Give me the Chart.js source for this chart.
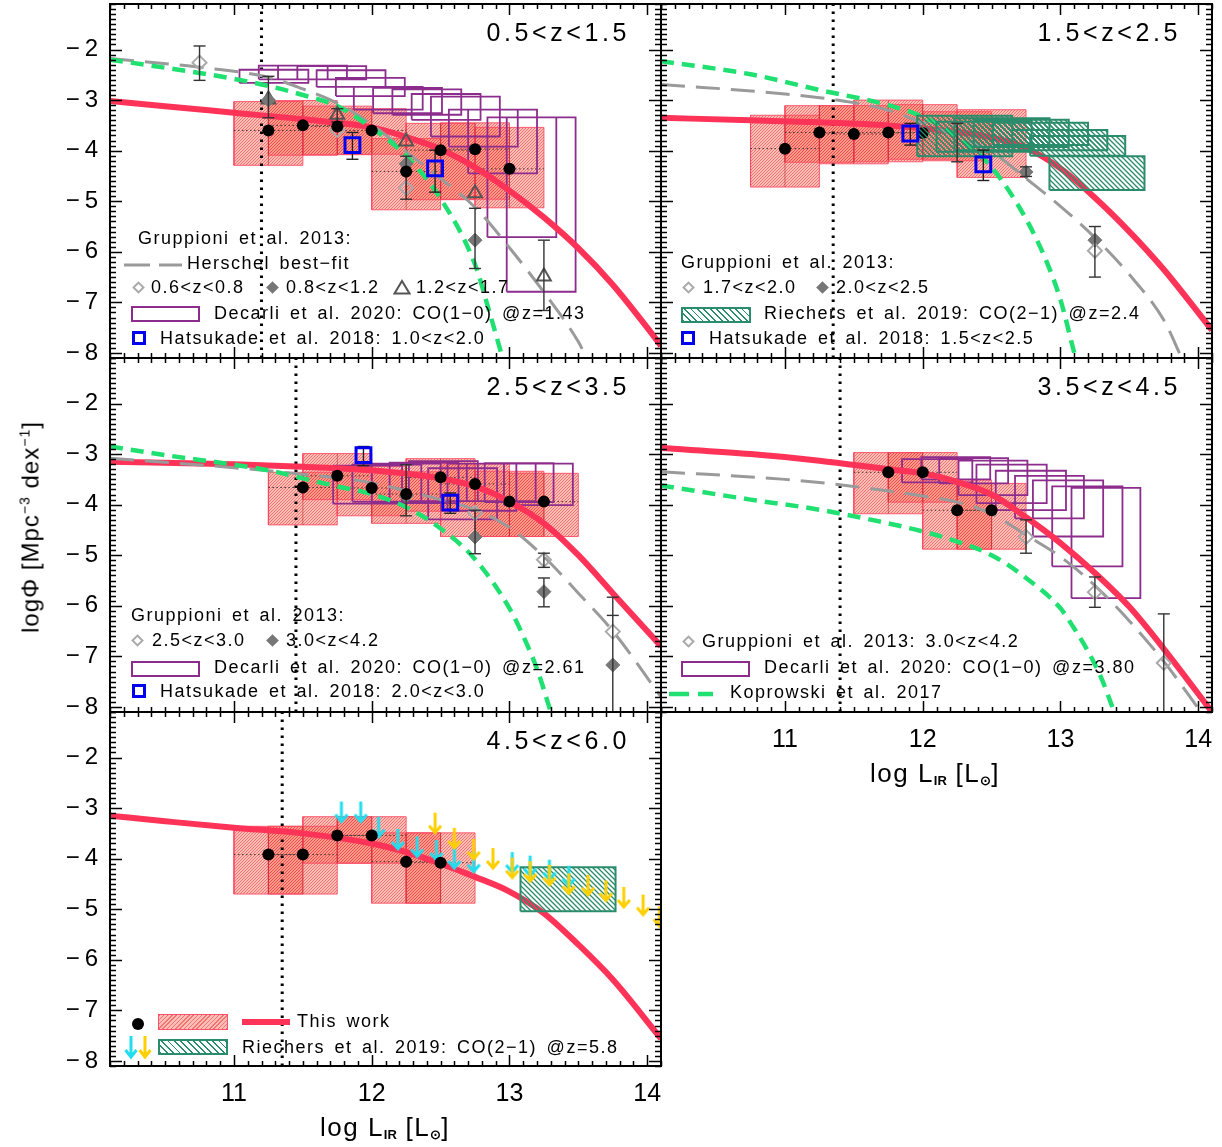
<!DOCTYPE html>
<html>
<head>
<meta charset="utf-8">
<title>IR luminosity functions</title>
<script src="https://cdn.jsdelivr.net/npm/chart.js@4.4.1/dist/chart.umd.min.js"></script>
<style>
  body { margin: 0; background: #fff; }
  #fig { position: relative; width: 1222px; height: 1147px; overflow: hidden;
         font-family: "Liberation Sans", Arial, Helvetica, sans-serif; color: #000; }
  #fig canvas { position: absolute; left: 0; top: 0; }
  .lab { position: absolute; white-space: nowrap; font-size: 18px; line-height: 1;
         letter-spacing: 1.5px; word-spacing: 3px; transform: translateY(-50%); }
  .zr { position: absolute; white-space: nowrap; font-size: 25px; line-height: 1;
        letter-spacing: 3.6px; transform: translate(-100%, -50%); }
  .axt { position: absolute; white-space: nowrap; font-size: 26px; line-height: 1;
         letter-spacing: 1.5px; transform: translate(-50%, -50%); }
  .axt sub { font-size: 13px; font-weight: bold; vertical-align: -3px; letter-spacing: 0; }
  .ytitle { position: absolute; white-space: nowrap; font-size: 24px; line-height: 1; letter-spacing: 1px;
            transform: translate(-50%, -50%) rotate(-90deg); }
  .ytitle sup { font-size: 14px; }
  .sym { position: absolute; box-sizing: border-box; }
</style>
</head>
<body>
<div id="fig"></div>
<script>
const FONT = '"Liberation Sans", Arial, Helvetica, sans-serif'
const X_MIN = 10.1, X_MAX = 14.1, Y_MIN = -8.1, Y_MAX = -1.1
const xTicks = [11, 12, 13, 14]
const yTicks = [-2, -3, -4, -5, -6, -7, -8]

// ---- 0.5<z<1.5 ----
const p1DotX = [11.25, 11.5, 11.75, 12.0, 12.25, 12.5, 12.75, 13.0]
const p1DotY = [-3.6, -3.5, -3.52, -3.6, -4.41, -3.99, -3.97, -4.36]
const p1BoxX0 = [11.0, 11.25, 11.5, 11.75, 12.0, 12.25, 12.5, 12.75]
const p1BoxX1 = [11.5, 11.75, 12.0, 12.25, 12.5, 12.75, 13.0, 13.25]
const p1BoxTop = [-3.03, -3.01, -3.12, -3.17, -3.76, -3.46, -3.45, -3.54]
const p1BoxBot = [-4.29, -4.09, -4.08, -4.07, -5.17, -4.97, -4.96, -5.13]
const p1CoX0 = [11.04, 11.18, 11.32, 11.46, 11.60, 11.74, 11.87, 12.01, 12.15, 12.29, 12.43, 12.56, 12.70, 12.84, 12.98]
const p1CoX1 = [11.54, 11.68, 11.82, 11.96, 12.10, 12.24, 12.37, 12.51, 12.65, 12.79, 12.93, 13.06, 13.20, 13.34, 13.48]
const p1CoTop = [-2.40, -2.32, -2.32, -2.33, -2.41, -2.56, -2.74, -2.76, -2.79, -2.88, -2.93, -3.19, -3.19, -3.34, -3.34]
const p1CoBot = [-2.66, -2.59, -2.59, -2.59, -2.74, -2.92, -3.19, -3.26, -3.29, -3.39, -3.72, -3.92, -4.45, -5.71, -6.79]
const p1HatX = [11.86, 12.46]
const p1HatY = [-3.89, -4.35]
const p1HatLo = [-4.17, -4.82]
const p1HatHi = [-3.64, -3.99]
const p1GOpenX = [10.75, 11.75, 12.25]
const p1GOpenY = [-2.26, -3.59, -4.74]
const p1GFillX = [11.25, 12.25, 12.75]
const p1GFillY = [-3.0, -4.26, -5.77]
const p1GTriX = [11.25, 11.75, 12.25, 12.75, 13.25]
const p1GTriY = [-2.99, -3.29, -3.82, -4.84, -6.49]
const p1ErrX = [10.75, 11.25, 11.75, 12.25, 12.75, 13.25]
const p1ErrLo = [-2.61, -3.35, -3.43, -4.96, -6.33, -7.16]
const p1ErrHi = [-1.93, -2.53, -3.17, -4.11, -5.14, -5.77]
const p1RedX = [10.1, 10.5, 11.0, 11.5, 12.0, 12.25, 12.5, 12.75, 13.0, 13.25, 13.5, 13.75, 14.0, 14.1]
const p1RedY = [-3.02, -3.12, -3.25, -3.38, -3.54, -3.73, -3.97, -4.33, -4.79, -5.32, -5.93, -6.65, -7.5, -7.86]
const p1KopX = [10.1, 10.5, 11.0, 11.25, 11.5, 11.75, 12.0, 12.25, 12.5, 12.75, 12.85, 12.95]
const p1KopY = [-2.2, -2.36, -2.58, -2.72, -2.9, -3.12, -3.55, -4.1, -4.95, -6.25, -7.15, -8.1]
const p1HerX = [10.1, 10.75, 11.25, 11.5, 11.75, 12.0, 12.25, 12.5, 12.75, 13.0, 13.25, 13.5, 13.56]
const p1HerY = [-2.18, -2.35, -2.55, -2.78, -3.06, -3.48, -4.02, -4.55, -5.12, -5.92, -6.8, -7.78, -8.1]
const p1LimX = 11.2

// ---- 1.5<z<2.5 ----
const p2DotX = [11.0, 11.25, 11.5, 11.75]
const p2DotY = [-3.96, -3.64, -3.67, -3.64]
const p2HidX = [12.0]
const p2HidY = [-3.65]
const p2BoxX0 = [10.75, 11.0, 11.25, 11.5, 11.75, 12.0, 12.25]
const p2BoxX1 = [11.25, 11.5, 11.75, 12.0, 12.25, 12.5, 12.75]
const p2BoxTop = [-3.3, -3.11, -3.11, -3.0, -3.09, -3.23, -3.19]
const p2BoxBot = [-4.72, -4.23, -4.26, -4.22, -4.17, -4.2, -4.53]
const p2RieX0 = [11.96, 12.10, 12.23, 12.37, 12.51, 12.65, 12.78, 12.92]
const p2RieX1 = [12.65, 12.79, 12.92, 13.06, 13.20, 13.34, 13.47, 13.61]
const p2RieTop = [-3.31, -3.43, -3.36, -3.39, -3.45, -3.59, -3.71, -4.11]
const p2RieBot = [-4.11, -4.02, -3.99, -3.93, -3.89, -3.99, -4.10, -4.78]
const p2HatX = [11.91, 12.44]
const p2HatY = [-3.66, -4.27]
const p2HatLo = [-3.89, -4.59]
const p2HatHi = [-3.46, -3.99]
const p2GOpenX = [13.25]
const p2GOpenY = [-5.98]
const p2GFillX = [12.75, 13.25]
const p2GFillY = [-4.42, -5.77]
const p2ErrX = [12.25, 12.75, 13.25]
const p2ErrLo = [-4.22, -4.51, -6.5]
const p2ErrHi = [-3.46, -4.32, -5.5]
const p2RedX = [10.1, 10.75, 11.25, 11.75, 12.0, 12.25, 12.5, 12.75, 13.0, 13.25, 13.5, 13.75, 14.1]
const p2RedY = [-3.35, -3.4, -3.44, -3.5, -3.56, -3.63, -3.74, -3.95, -4.35, -4.93, -5.6, -6.35, -7.55]
const p2KopX = [10.1, 10.75, 11.25, 11.75, 12.0, 12.25, 12.5, 12.75, 12.9, 13.0, 13.1]
const p2KopY = [-2.23, -2.49, -2.8, -3.1, -3.33, -3.72, -4.33, -5.35, -6.2, -6.95, -8.0]
const p2HerX = [10.1, 11.0, 11.5, 11.75, 12.0, 12.25, 12.5, 12.75, 13.0, 13.25, 13.5, 13.75, 13.88]
const p2HerY = [-2.69, -2.88, -3.05, -3.2, -3.45, -3.72, -4.02, -4.55, -5.1, -5.72, -6.45, -7.35, -8.1]
const p2LimX = 11.35

// ---- 2.5<z<3.5 ----
const p3DotX = [11.5, 11.75, 12.0, 12.25, 12.5, 12.75, 13.0, 13.25]
const p3DotY = [-3.66, -3.43, -3.67, -3.79, -3.46, -3.59, -3.94, -3.94]
const p3BoxX0 = [11.25, 11.5, 11.75, 12.0, 12.25, 12.5, 12.75, 13.0]
const p3BoxX1 = [11.75, 12.0, 12.25, 12.5, 12.75, 13.0, 13.25, 13.5]
const p3BoxTop = [-3.36, -2.99, -3.24, -3.35, -3.09, -3.19, -3.34, -3.38]
const p3BoxBot = [-4.4, -3.9, -4.22, -4.37, -4.13, -4.63, -4.63, -4.63]
const p3CoX0 = [11.72, 11.86, 12.0, 12.13, 12.27, 12.41, 12.55, 12.69, 12.82, 12.96]
const p3CoX1 = [12.22, 12.36, 12.5, 12.63, 12.77, 12.91, 13.05, 13.19, 13.32, 13.46]
const p3CoTop = [-3.23, -3.21, -3.19, -3.17, -3.14, -3.28, -3.19, -3.19, -3.18, -3.19]
const p3CoBot = [-3.98, -3.94, -3.96, -3.97, -3.93, -4.29, -4.12, -3.93, -3.95, -4.01]
const p3HatX = [11.94, 12.57]
const p3HatY = [-3.02, -3.96]
const p3HatLo = [-3.23, -4.17]
const p3HatHi = [-2.85, -3.77]
const p3GOpenX = [12.75, 13.25, 13.75]
const p3GOpenY = [-4.16, -5.09, -6.51]
const p3GFillX = [12.25, 12.75, 13.25, 13.75]
const p3GFillY = [-3.83, -4.64, -5.72, -7.17]
const p3ErrX = [12.25, 12.75, 13.25, 13.25, 13.75, 13.75]
const p3ErrLo = [-4.22, -4.97, -5.24, -6.02, -8.4, -8.4]
const p3ErrHi = [-3.21, -4.11, -4.96, -5.45, -5.83, -6.19]
const p3RedX = [10.1, 11.0, 11.5, 12.0, 12.5, 12.75, 13.0, 13.25, 13.5, 13.75, 14.1]
const p3RedY = [-3.15, -3.2, -3.25, -3.32, -3.48, -3.64, -3.94, -4.37, -5.0, -5.75, -6.8]
const p3KopX = [10.1, 10.5, 11.0, 11.25, 11.5, 11.75, 12.0, 12.25, 12.5, 12.75, 13.0, 13.1, 13.2, 13.3]
const p3KopY = [-2.85, -3.02, -3.21, -3.32, -3.48, -3.64, -3.79, -4.05, -4.47, -5.08, -6.05, -6.6, -7.25, -8.1]
const p3HerX = [10.1, 11.0, 11.5, 12.0, 12.25, 12.5, 12.75, 13.0, 13.25, 13.5, 13.75, 14.1]
const p3HerY = [-3.08, -3.27, -3.4, -3.57, -3.73, -3.9, -4.1, -4.45, -5.03, -5.75, -6.5, -7.8]
const p3LimX = 11.45

// ---- 3.5<z<4.5 ----
const p4DotX = [11.75, 12.0, 12.25, 12.5]
const p4DotY = [-3.36, -3.36, -4.11, -4.11]
const p4BoxX0 = [11.5, 11.75, 12.0, 12.25]
const p4BoxX1 = [12.0, 12.25, 12.5, 12.75]
const p4BoxTop = [-2.97, -2.97, -3.51, -3.58]
const p4BoxBot = [-4.18, -3.95, -4.88, -4.88]
const p4CoX0 = [11.85, 11.99, 12.12, 12.26, 12.39, 12.53, 12.67, 12.80, 12.94, 13.08]
const p4CoX1 = [12.36, 12.49, 12.62, 12.76, 12.90, 13.04, 13.17, 13.31, 13.45, 13.58]
const p4CoTop = [-3.1, -3.06, -3.08, -3.13, -3.21, -3.33, -3.43, -3.52, -3.64, -3.67]
const p4CoBot = [-3.56, -3.5, -3.58, -3.81, -3.97, -4.11, -4.27, -4.63, -5.22, -5.85]
const p4GOpenX = [12.75, 13.25, 13.75]
const p4GOpenY = [-4.64, -5.73, -7.13]
const p4ErrX = [12.75, 13.25, 13.75]
const p4ErrLo = [-4.96, -6.03, -8.4]
const p4ErrHi = [-4.3, -5.43, -6.16]
const p4RedX = [10.1, 10.75, 11.25, 11.75, 12.0, 12.25, 12.5, 12.75, 13.0, 13.25, 13.5, 13.75, 14.1]
const p4RedY = [-2.88, -3.0, -3.13, -3.3, -3.38, -3.55, -3.8, -4.25, -4.76, -5.35, -6.02, -6.85, -8.1]
const p4KopX = [10.1, 10.75, 11.25, 11.75, 12.0, 12.25, 12.5, 12.75, 13.0, 13.1, 13.2, 13.3, 13.39]
const p4KopY = [-3.62, -3.9, -4.1, -4.37, -4.53, -4.73, -5.0, -5.45, -6.05, -6.45, -6.9, -7.45, -8.1]
const p4HerX = [10.1, 11.0, 11.5, 12.0, 12.25, 12.5, 12.75, 13.0, 13.25, 13.5, 13.75, 14.02]
const p4HerY = [-3.35, -3.5, -3.64, -3.83, -3.95, -4.18, -4.6, -5.03, -5.6, -6.3, -7.1, -8.1]
const p4LimX = 11.4

// ---- 4.5<z<6.0 ----
const p5DotX = [11.25, 11.5, 11.75, 12.0, 12.25, 12.5]
const p5DotY = [-3.92, -3.92, -3.54, -3.54, -4.06, -4.08]
const p5BoxX0 = [11.0, 11.25, 11.5, 11.75, 12.0, 12.25]
const p5BoxX1 = [11.5, 11.75, 12.0, 12.25, 12.5, 12.75]
const p5BoxTop = [-3.36, -3.36, -3.17, -3.17, -3.49, -3.49]
const p5BoxBot = [-4.7, -4.7, -4.09, -4.09, -4.88, -4.88]
const p5CyanX = [11.78, 11.92, 12.05, 12.19, 12.33, 12.47, 12.6, 12.74, 13.02, 13.15, 13.29, 13.43]
const p5CyanY = [-2.87, -2.87, -3.17, -3.41, -3.56, -3.63, -3.79, -3.86, -3.87, -3.94, -4.02, -4.14]
const p5YellowX = [12.46, 12.6, 12.74, 12.88, 13.02, 13.15, 13.29, 13.43, 13.57, 13.7, 13.83, 13.97, 14.09]
const p5YellowY = [-3.09, -3.39, -3.61, -3.79, -3.98, -4.05, -4.12, -4.29, -4.32, -4.43, -4.56, -4.71, -4.94]
const p5RieX0 = [13.08]
const p5RieX1 = [13.77]
const p5RieTop = [-4.17]
const p5RieBot = [-5.04]
const p5RedX = [10.1, 10.5, 11.0, 11.5, 12.0, 12.25, 12.5, 12.75, 13.0, 13.25, 13.5, 13.75, 14.1]
const p5RedY = [-3.15, -3.26, -3.39, -3.5, -3.7, -3.87, -4.1, -4.36, -4.65, -5.08, -5.7, -6.39, -7.56]
const p5LimX = 11.35

// colours
const RED = '#FF3358', KOP = '#1FE070', HER = '#9A9A9A', PURPLE = '#8C2C8C', RIE = '#2B8C6C', HAT = '#0000EE'
const PINK_EDGE = 'rgba(255,70,95,0.85)'

const fig = document.getElementById('fig')
const W = 1222, H = 1147

function hatch(bg, fg, size, lw, dir) {
    const c = document.createElement('canvas')
    c.width = c.height = size
    const g = c.getContext('2d')
    if (bg) { g.fillStyle = bg; g.fillRect(0, 0, size, size) }
    g.strokeStyle = fg
    g.lineWidth = lw
    g.beginPath()
    if (dir == '/') {
        g.moveTo(-1, size + 1); g.lineTo(size + 1, -1)
        g.moveTo(-1, 1); g.lineTo(1, -1)
        g.moveTo(size - 1, size + 1); g.lineTo(size + 1, size - 1)
    } else {
        g.moveTo(-1, -1); g.lineTo(size + 1, size + 1)
        g.moveTo(size - 1, -1); g.lineTo(size + 1, 1)
        g.moveTo(-1, size - 1); g.lineTo(1, size + 1)
    }
    g.stroke()
    return g.createPattern(c, 'repeat')
}
const pinkPat = hatch('rgba(255,110,95,0.45)', 'rgba(235,40,40,0.5)', 3, 1, '/')
const greenPat = hatch(null, RIE, 5, 1.3, '\\')

function arrowImg(color) {
    const c = document.createElement('canvas')
    c.width = 16; c.height = 46
    const g = c.getContext('2d')
    g.strokeStyle = color
    g.lineWidth = 3
    g.beginPath()
    g.moveTo(8, 23); g.lineTo(8, 43)
    g.moveTo(2, 36); g.lineTo(8, 43); g.lineTo(14, 36)
    g.stroke()
    return c
}
const cyanArrow = arrowImg('#22DDEE')
const yellowArrow = arrowImg('#FFD000')

const pts = (xs, ys) => xs.map((x, i) => ({x, y: ys[i]}))
function joinSegs(segs) {
    const out = []
    segs.forEach((s, i) => {
        if (i) out.push({x: s[0].x, y: null})
        s.forEach(p => out.push(p))
    })
    return out
}
const rectPath = (x0, x1, lo, hi) => [{x: x0, y: lo}, {x: x1, y: lo}, {x: x1, y: hi}, {x: x0, y: hi}, {x: x0, y: lo}]

function boxFills(x0, x1, top, bot, pattern, order) {
    return x0.map((a, i) => ({
        data: [{x: a, y: bot[i]}, {x: x1[i], y: bot[i]}],
        fill: {value: top[i]}, backgroundColor: pattern,
        borderWidth: 0, pointRadius: 0, order
    }))
}
function boxOutline(x0, x1, top, bot, color, width, order) {
    return {
        data: joinSegs(x0.map((a, i) => rectPath(a, x1[i], bot[i], top[i]))),
        borderColor: color, borderWidth: width, pointRadius: 0, fill: false, order
    }
}
function boxCrosses(dx, dy, x0, x1, top, bot) {
    const h = dx.map((x, i) => [{x: x0[i], y: dy[i]}, {x: x1[i], y: dy[i]}])
    const v = dx.map((x, i) => [{x, y: bot[i]}, {x, y: top[i]}])
    return [
        {data: joinSegs(h), borderColor: '#333', borderWidth: 1, borderDash: [1.5, 2.5], pointRadius: 0, fill: false, order: 8},
        {data: joinSegs(v), borderColor: 'rgba(150,30,30,0.5)', borderWidth: 1, pointRadius: 0, fill: false, order: 8}
    ]
}
function pinkBoxes(dx, dy, x0, x1, top, bot) {
    return [
        ...boxFills(x0, x1, top, bot, pinkPat, 10),
        boxOutline(x0, x1, top, bot, PINK_EDGE, 1, 9),
        ...boxCrosses(dx, dy, x0, x1, top, bot)
    ]
}
function greenBoxes(x0, x1, top, bot) {
    return [...boxFills(x0, x1, top, bot, greenPat, 3.5), boxOutline(x0, x1, top, bot, RIE, 2, 3.5)]
}
function curve(xs, ys, color, width, dash, order) {
    return {
        data: pts(xs, ys), borderColor: color, borderWidth: width, borderDash: dash, borderCapStyle: 'butt',
        cubicInterpolationMode: 'monotone', pointRadius: 0, fill: false, order
    }
}
function markers(xs, ys, style, radius, fillC, lineC, lw, order) {
    return {
        data: pts(xs, ys), showLine: false, pointStyle: style, pointRadius: radius,
        pointBackgroundColor: fillC, pointBorderColor: lineC, pointBorderWidth: lw, order
    }
}
function errorBars(xs, lo, hi, color, order) {
    return {
        data: joinSegs(xs.map((x, i) => [{x, y: lo[i]}, {x, y: hi[i]}])),
        borderColor: color, borderWidth: 1.4, pointStyle: 'line', pointRadius: 6,
        pointBorderColor: color, pointBorderWidth: 1.4, fill: false, order
    }
}
function limitLine(x) {
    return {data: [{x, y: Y_MIN}, {x, y: Y_MAX}], borderColor: '#000', borderWidth: 3,
            borderDash: [2.5, 5.5], borderCapStyle: 'butt', pointRadius: 0, fill: false, order: 8}
}
const dots = (xs, ys, order = 0) => markers(xs, ys, 'circle', 6, '#000', '#000', 0, order)
const openDia = (xs, ys) => markers(xs, ys, 'rectRot', 7, 'rgba(0,0,0,0)', '#AAAAAA', 2, 3)
const fillDia = (xs, ys) => markers(xs, ys, 'rectRot', 7, '#777777', '#777777', 1, 3)
const openTri = (xs, ys) => markers(xs, ys, 'triangle', 8, 'rgba(0,0,0,0)', '#555555', 2, 3)
const hatSq = (xs, ys) => markers(xs, ys, 'rect', 10.5, 'rgba(0,0,0,0)', HAT, 3, 1)

const framePlugin = {
    id: 'frame',
    afterDraw(chart) {
        const {ctx, chartArea: a} = chart
        const sx = chart.scales.x, sy = chart.scales.y
        ctx.save()
        ctx.strokeStyle = '#000'
        ctx.lineWidth = 1.5
        ctx.beginPath()
        for (let i = 0; i <= 40; i++) {
            const v = X_MIN + i * 0.1
            const px = Math.round(sx.getPixelForValue(v)) + 0.5
            const len = Math.abs(v - Math.round(v)) < 1e-6 ? 11 : 5
            ctx.moveTo(px, a.bottom); ctx.lineTo(px, a.bottom - len)
            ctx.moveTo(px, a.top); ctx.lineTo(px, a.top + len)
        }
        for (let i = 0; i <= 70; i++) {
            const v = Y_MIN + i * 0.1
            const py = Math.round(sy.getPixelForValue(v)) + 0.5
            const len = Math.abs(v - Math.round(v)) < 1e-6 ? 12 : 6
            ctx.moveTo(a.left, py); ctx.lineTo(a.left + len, py)
            ctx.moveTo(a.right, py); ctx.lineTo(a.right - len, py)
        }
        ctx.stroke()
        ctx.lineWidth = 2
        ctx.strokeRect(a.left, a.top, a.right - a.left, a.bottom - a.top)
        ctx.restore()
    }
}

// tick labels are clipped to the axis box, so labelled axes get a real size;
// label overhang padding is dropped so every panel keeps its exact frame
function panel(area, showX, showY, datasets) {
    const c = document.createElement('canvas')
    c.width = W
    c.height = H
    fig.appendChild(c)
    const yw = showY ? area[0] : 0
    const xh = showX ? 60 : 0
    return new Chart(c, {
        type: 'line',
        data: {datasets},
        options: {
            responsive: false,
            animation: false,
            events: [],
            layout: {autoPadding: false,
                     padding: {left: area[0] - yw, top: area[1], right: W - area[2], bottom: H - area[3] - xh}},
            plugins: {legend: {display: false}, tooltip: {enabled: false}},
            scales: {
                x: {
                    type: 'linear', min: X_MIN, max: X_MAX,
                    grid: {display: false, drawTicks: false}, border: {display: false},
                    ticks: {display: showX, padding: 13, color: '#000', font: {family: FONT, size: 25},
                            maxRotation: 0, autoSkip: false},
                    afterBuildTicks: s => { s.ticks = xTicks.map(v => ({value: v})) },
                    afterFit: s => { s.height = xh; s.paddingLeft = 0; s.paddingRight = 0 }
                },
                y: {
                    type: 'linear', min: Y_MIN, max: Y_MAX,
                    grid: {display: false, drawTicks: false}, border: {display: false},
                    ticks: {display: showY, padding: 12, color: '#000', font: {family: FONT, size: 24},
                            autoSkip: false, callback: v => '\u2212\u2009' + Math.abs(v)},
                    afterBuildTicks: s => { s.ticks = yTicks.map(v => ({value: v})) },
                    afterFit: s => { s.width = yw; s.paddingTop = 0; s.paddingBottom = 0 }
                }
            }
        },
        plugins: [framePlugin]
    })
}

const LEFT = [110, 661], RIGHT = [661, 1212]
const ROW1 = [4, 358], ROW2 = [358, 712], ROW3 = [712, 1066]

panel([LEFT[0], ROW1[0], LEFT[1], ROW1[1]], false, true, [
    dots(p1DotX, p1DotY),
    hatSq(p1HatX, p1HatY),
    errorBars(p1HatX, p1HatLo, p1HatHi, '#222', 2),
    errorBars(p1ErrX, p1ErrLo, p1ErrHi, '#333', 2),
    openDia(p1GOpenX, p1GOpenY),
    fillDia(p1GFillX, p1GFillY),
    openTri(p1GTriX, p1GTriY),
    curve(p1KopX, p1KopY, KOP, 4.5, [13, 8], 4),
    curve(p1HerX, p1HerY, HER, 3, [24, 11], 4.2),
    curve(p1RedX, p1RedY, RED, 6, [], 5),
    boxOutline(p1CoX0, p1CoX1, p1CoTop, p1CoBot, PURPLE, 1.8, 7),
    limitLine(p1LimX),
    ...pinkBoxes(p1DotX, p1DotY, p1BoxX0, p1BoxX1, p1BoxTop, p1BoxBot)
])

panel([RIGHT[0], ROW1[0], RIGHT[1], ROW1[1]], false, false, [
    dots(p2DotX, p2DotY),
    hatSq(p2HatX, p2HatY),
    errorBars(p2HatX, p2HatLo, p2HatHi, '#222', 2),
    errorBars(p2ErrX, p2ErrLo, p2ErrHi, '#333', 2),
    openDia(p2GOpenX, p2GOpenY),
    fillDia(p2GFillX, p2GFillY),
    ...greenBoxes(p2RieX0, p2RieX1, p2RieTop, p2RieBot),
    dots(p2HidX, p2HidY, 3.6),
    curve(p2KopX, p2KopY, KOP, 4.5, [13, 8], 4),
    curve(p2HerX, p2HerY, HER, 3, [24, 11], 4.2),
    curve(p2RedX, p2RedY, RED, 6, [], 5),
    limitLine(p2LimX),
    ...pinkBoxes(p2DotX.concat(p2HidX), p2DotY.concat(p2HidY), p2BoxX0, p2BoxX1, p2BoxTop, p2BoxBot)
])

panel([LEFT[0], ROW2[0], LEFT[1], ROW2[1]], false, true, [
    dots(p3DotX, p3DotY),
    hatSq(p3HatX, p3HatY),
    errorBars(p3HatX, p3HatLo, p3HatHi, '#222', 2),
    errorBars(p3ErrX, p3ErrLo, p3ErrHi, '#333', 2),
    openDia(p3GOpenX, p3GOpenY),
    fillDia(p3GFillX, p3GFillY),
    curve(p3KopX, p3KopY, KOP, 4.5, [13, 8], 4),
    curve(p3HerX, p3HerY, HER, 3, [24, 11], 4.2),
    curve(p3RedX, p3RedY, RED, 6, [], 5),
    boxOutline(p3CoX0, p3CoX1, p3CoTop, p3CoBot, PURPLE, 1.8, 7),
    limitLine(p3LimX),
    ...pinkBoxes(p3DotX, p3DotY, p3BoxX0, p3BoxX1, p3BoxTop, p3BoxBot)
])

panel([RIGHT[0], ROW2[0], RIGHT[1], ROW2[1]], true, false, [
    dots(p4DotX, p4DotY),
    errorBars(p4ErrX, p4ErrLo, p4ErrHi, '#333', 2),
    openDia(p4GOpenX, p4GOpenY),
    curve(p4KopX, p4KopY, KOP, 4.5, [13, 8], 4),
    curve(p4HerX, p4HerY, HER, 3, [24, 11], 4.2),
    curve(p4RedX, p4RedY, RED, 6, [], 5),
    boxOutline(p4CoX0, p4CoX1, p4CoTop, p4CoBot, PURPLE, 1.8, 7),
    limitLine(p4LimX),
    ...pinkBoxes(p4DotX, p4DotY, p4BoxX0, p4BoxX1, p4BoxTop, p4BoxBot)
])

panel([LEFT[0], ROW3[0], LEFT[1], ROW3[1]], true, true, [
    dots(p5DotX, p5DotY),
    markers(p5YellowX, p5YellowY, yellowArrow, 8, '#FFD000', '#FFD000', 0, 1),
    markers(p5CyanX, p5CyanY, cyanArrow, 8, '#22DDEE', '#22DDEE', 0, 1.5),
    ...greenBoxes(p5RieX0, p5RieX1, p5RieTop, p5RieBot),
    curve(p5RedX, p5RedY, RED, 6, [], 5),
    limitLine(p5LimX),
    ...pinkBoxes(p5DotX, p5DotY, p5BoxX0, p5BoxX1, p5BoxTop, p5BoxBot)
])

// ---- text and legend keys ----
function lab(text, x, y, cls = 'lab', html = false) {
    const d = document.createElement('div')
    d.className = cls
    d.style.left = x + 'px'
    d.style.top = y + 'px'
    if (html) d.innerHTML = text
    else d.textContent = text
    fig.appendChild(d)
}
function sym(x, y, w, h, css) {
    const d = document.createElement('div')
    d.className = 'sym'
    Object.assign(d.style, {left: x + 'px', top: y + 'px', width: w + 'px', height: h + 'px'}, css)
    fig.appendChild(d)
}
function svgSym(x, y, w, h, inner) {
    const d = document.createElement('div')
    d.className = 'sym'
    Object.assign(d.style, {left: x + 'px', top: y + 'px', width: w + 'px', height: h + 'px'})
    d.innerHTML = `<svg width="${w}" height="${h}" xmlns="http://www.w3.org/2000/svg">${inner}</svg>`
    fig.appendChild(d)
}
const keyOpenDia = (cx, cy) => sym(cx - 4.5, cy - 4.5, 9, 9, {border: '2px solid #AAAAAA', transform: 'rotate(45deg)'})
const keyFillDia = (cx, cy) => sym(cx - 4.5, cy - 4.5, 9, 9, {background: '#777777', transform: 'rotate(45deg)'})
const keyTri = (cx, cy) => svgSym(cx - 9, cy - 8, 18, 16, '<polygon points="9,2 16.5,14.5 1.5,14.5" fill="none" stroke="#555" stroke-width="2"/>')
const keyPurple = (x0, y0, x1, y1) => sym(x0, y0, x1 - x0, y1 - y0, {border: '2px solid ' + PURPLE})
const keyHat = (cx, cy) => sym(cx - 7, cy - 7, 14, 14, {border: '3px solid ' + HAT})
const keyRie = (x0, y0, x1, y1) => sym(x0, y0, x1 - x0, y1 - y0, {border: '2px solid ' + RIE,
    backgroundImage: 'repeating-linear-gradient(45deg, ' + RIE + ' 0 1.3px, transparent 1.3px 4.5px)'})
const keyPink = (x0, y0, x1, y1) => sym(x0, y0, x1 - x0, y1 - y0, {border: '1px solid ' + PINK_EDGE,
    backgroundColor: 'rgba(255,110,95,0.45)',
    backgroundImage: 'repeating-linear-gradient(-45deg, rgba(235,40,40,0.5) 0 1px, transparent 1px 3px)'})
const keyDash = (x0, x1, y, color, w, dash) => svgSym(x0, y - 6, x1 - x0, 12,
    `<line x1="0" y1="6" x2="${x1 - x0}" y2="6" stroke="${color}" stroke-width="${w}" stroke-dasharray="${dash}"/>`)
const keyArrow = (cx, y0, color) => svgSym(cx - 7, y0, 14, 24,
    `<path d="M7 0 V21 M1.5 14 L7 21 L12.5 14" fill="none" stroke="${color}" stroke-width="3"/>`)

// 0.5<z<1.5
lab('0.5<z<1.5', 630, 32, 'zr')
lab('Gruppioni et al. 2013:', 138, 238)
keyDash(124, 182, 263, HER, 3, '26 9')
lab('Herschel best\u2212fit', 187, 263)
keyOpenDia(138, 287); lab('0.6<z<0.8', 151, 287)
keyFillDia(272, 287); lab('0.8<z<1.2', 286, 287)
keyTri(402, 287); lab('1.2<z<1.7', 416, 287)
keyPurple(131, 306, 200, 322); lab('Decarli et al. 2020: CO(1\u22120) @z=1.43', 214, 313)
keyHat(139, 338); lab('Hatsukade et al. 2018: 1.0<z<2.0', 160, 338)

// 1.5<z<2.5
lab('1.5<z<2.5', 1181, 32, 'zr')
lab('Gruppioni et al. 2013:', 681, 262)
keyOpenDia(688, 287); lab('1.7<z<2.0', 703, 287)
keyFillDia(822, 287); lab('2.0<z<2.5', 836, 287)
keyRie(681, 307, 751, 323); lab('Riechers et al. 2019: CO(2\u22121) @z=2.4', 764, 313)
keyHat(688, 338); lab('Hatsukade et al. 2018: 1.5<z<2.5', 709, 338)

// 2.5<z<3.5
lab('2.5<z<3.5', 630, 386, 'zr')
lab('Gruppioni et al. 2013:', 131, 615)
keyOpenDia(137, 640); lab('2.5<z<3.0', 152, 640)
keyFillDia(272, 640); lab('3.0<z<4.2', 286, 640)
keyPurple(131, 661, 200, 677); lab('Decarli et al. 2020: CO(1\u22120) @z=2.61', 214, 667)
keyHat(139, 691); lab('Hatsukade et al. 2018: 2.0<z<3.0', 160, 691)

// 3.5<z<4.5
lab('3.5<z<4.5', 1181, 386, 'zr')
keyOpenDia(688, 641); lab('Gruppioni et al. 2013: 3.0<z<4.2', 702, 641)
keyPurple(681, 661, 750, 677); lab('Decarli et al. 2020: CO(1\u22120) @z=3.80', 764, 667)
keyDash(669, 713, 692, KOP, 4.5, '20 9')
lab('Koprowski et al. 2017', 730, 692)

// 4.5<z<6.0
lab('4.5<z<6.0', 630, 740, 'zr')
sym(132, 1018, 12, 12, {background: '#000', borderRadius: '50%'})
keyPink(158, 1014, 228, 1030)
sym(242, 1019, 48, 6, {background: RED})
lab('This work', 297, 1021)
keyArrow(131, 1036, '#22DDEE')
keyArrow(145, 1036, '#FFD000')
keyRie(158, 1039, 228, 1055)
lab('Riechers et al. 2019: CO(2\u22121) @z=5.8', 242, 1047)

// axis titles
lab('log L<sub>IR</sub> [L<sub>\u2299</sub>]', 385, 1127, 'axt', true)
lab('log L<sub>IR</sub> [L<sub>\u2299</sub>]', 935, 773, 'axt', true)
lab('log\u03A6 [Mpc<sup>\u22123</sup> dex<sup>\u22121</sup>]', 30, 527, 'ytitle', true)
</script>
</body>
</html>
